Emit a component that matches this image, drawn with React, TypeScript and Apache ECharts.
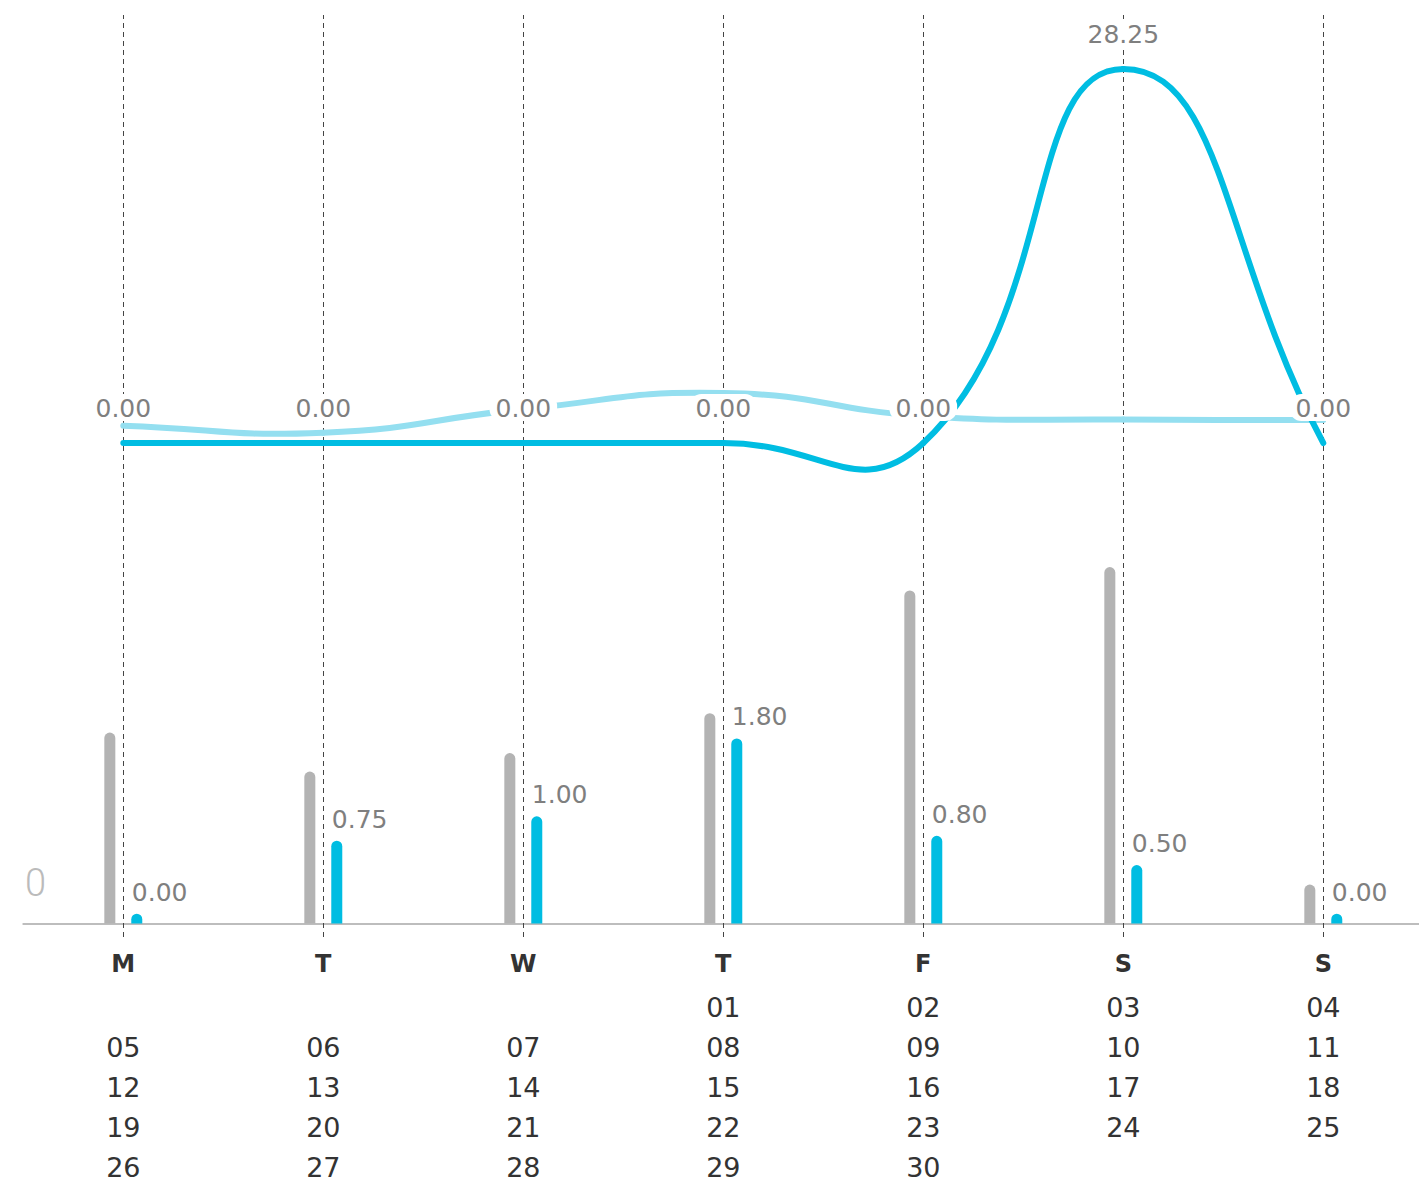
import React, { useEffect, useRef } from "react";
import * as echarts from "echarts";

// Week columns
const weekdays = ["Mon", "Tue", "Wed", "Thu", "Fri", "Sat", "Sun"];
const dayLetters = ["M", "T", "W", "T", "F", "S", "S"];

// Calendar rows shown under each weekday
const dateRows: string[][] = [
  ["", "", "", "01", "02", "03", "04"],
  ["05", "06", "07", "08", "09", "10", "11"],
  ["12", "13", "14", "15", "16", "17", "18"],
  ["19", "20", "21", "22", "23", "24", "25"],
  ["26", "27", "28", "29", "30", "", ""],
];

// Bars: grey reference vs blue actual
const referenceBars = [1.86, 1.46, 1.65, 2.06, 3.32, 3.56, 0.3];
const actualBars = [0, 0.75, 1.0, 1.8, 0.8, 0.5, 0];

// Lines: light trend and daily totals
const trendLine = [1.31, 0.78, 2.55, 3.78, 2.04, 1.77, 1.74];
const dailyTotals = [0, 0, 0, 0, 0, 28.25, 0];

// Bars rise from slightly below zero so empty days still show a stub
const BAR_FLOOR = -0.1;
const SMOOTH = 0.5;

const DARK_BLUE = "#00bde2";
const LIGHT_BLUE = "#94dff0";
const GREY_BAR = "#b3b3b3";
const LABEL_GREY = "#7f7f7f";
const FONT = "DejaVu Sans, Verdana, sans-serif";

const GRID_LEFT = 23.3;
const GRID_WIDTH = 1400;

function axisLabelText(_: string, index: number): string {
  const lines = [`{d|${dayLetters[index]}}`];
  dateRows.forEach((row) => {
    lines.push(`{n|${row[index] || " "}}`);
  });
  return lines.join("\n");
}

type Pt = number[];

// Free cubic smoothing through the points (control points are not clamped,
// so the curve may swing past neighbouring values).
function controlPoints(pts: Pt[], i: number): { cin: Pt; cout: Pt } {
  const p = pts[i];
  const prev = pts[i - 1] || p;
  const next = pts[i + 1] || p;
  const vx = next[0] - prev[0];
  const vy = next[1] - prev[1];
  const d0 = Math.hypot(p[0] - prev[0], p[1] - prev[1]);
  const d1 = Math.hypot(next[0] - p[0], next[1] - p[1]);
  const ratio = d0 + d1 === 0 ? 0.5 : d1 / (d0 + d1);
  return {
    cout: [p[0] + vx * SMOOTH * ratio, p[1] + vy * SMOOTH * ratio],
    cin: [p[0] - vx * SMOOTH * (1 - ratio), p[1] - vy * SMOOTH * (1 - ratio)],
  };
}

function smoothLineRenderer(values: number[], color: string, showLabels: boolean) {
  return (params: any, api: any) => {
    const i = params.dataIndex;
    const pts: Pt[] = values.map((v, k) => api.coord([k, v]));
    const children: any[] = [];
    if (i < pts.length - 1) {
      const a = controlPoints(pts, i);
      const b = controlPoints(pts, i + 1);
      children.push({
        type: "bezierCurve",
        shape: {
          x1: pts[i][0],
          y1: pts[i][1],
          cpx1: a.cout[0],
          cpy1: a.cout[1],
          cpx2: b.cin[0],
          cpy2: b.cin[1],
          x2: pts[i + 1][0],
          y2: pts[i + 1][1],
        },
        style: { stroke: color, lineWidth: 6, lineCap: "round", fill: "none" },
        z2: 1,
      });
    }
    if (showLabels) {
      children.push({
        type: "text",
        x: pts[i][0],
        y: pts[i][1] - 22,
        z2: 100,
        style: {
          text: values[i].toFixed(2),
          fontFamily: FONT,
          fontSize: 25,
          lineHeight: 25,
          fill: LABEL_GREY,
          align: "center",
          verticalAlign: "bottom",
          backgroundColor: "#ffffff",
          borderRadius: 12,
          padding: [2, 6, 0, 6],
        },
      });
    }
    return { type: "group", children };
  };
}

export default function App() {
  const ref = useRef<HTMLDivElement>(null);

  useEffect(() => {
    if (!ref.current) return;
    const chart = echarts.init(ref.current, null, { renderer: "svg" });

    chart.setOption({
      animation: false,
      backgroundColor: "#ffffff",
      textStyle: { fontFamily: FONT },
      grid: [
        // bars
        { left: GRID_LEFT, width: GRID_WIDTH, top: 524.2, height: 399.3 },
        // lines
        { left: GRID_LEFT, width: GRID_WIDTH, top: 45.8, height: 463.4 },
        // dashed day guides
        { left: GRID_LEFT, width: GRID_WIDTH, top: 15, height: 922 },
      ],
      xAxis: [
        {
          type: "category",
          gridIndex: 0,
          data: weekdays,
          boundaryGap: true,
          axisLine: { show: true, onZero: false, lineStyle: { color: "#bdbdbd", width: 2 } },
          axisTick: { show: false },
          axisLabel: {
            interval: 0,
            margin: 16,
            formatter: axisLabelText,
            rich: {
              d: {
                fontFamily: FONT,
                fontWeight: "bold",
                fontSize: 24,
                lineHeight: 48,
                color: "#333333",
                align: "center",
              },
              n: {
                fontFamily: FONT,
                fontSize: 27,
                lineHeight: 40,
                color: "#333333",
                align: "center",
              },
            },
          },
          splitLine: { show: false },
        },
        {
          type: "category",
          gridIndex: 1,
          data: weekdays,
          boundaryGap: true,
          show: false,
        },
        {
          type: "category",
          gridIndex: 2,
          data: weekdays,
          boundaryGap: true,
          axisLine: { show: false },
          axisLabel: { show: false },
          axisTick: {
            show: true,
            inside: true,
            alignWithLabel: true,
            length: 922,
            lineStyle: { color: "#444444", width: 1, type: [5, 4] },
          },
          splitLine: { show: false },
        },
      ],
      yAxis: [
        {
          type: "value",
          gridIndex: 0,
          min: BAR_FLOOR,
          max: 4,
          startValue: BAR_FLOOR,
          show: false,
          splitLine: { show: false },
        },
        {
          type: "value",
          gridIndex: 1,
          min: -5,
          max: 30,
          show: false,
          splitLine: { show: false },
        },
        {
          type: "value",
          gridIndex: 2,
          min: 0,
          max: 1,
          show: false,
          splitLine: { show: false },
        },
      ],
      series: [
        {
          name: "reference",
          type: "bar",
          xAxisIndex: 0,
          yAxisIndex: 0,
          data: referenceBars,
          barWidth: 11,
          barGap: "145%",
          itemStyle: { color: GREY_BAR, borderRadius: [5.5, 5.5, 0, 0] },
          z: 3,
        },
        {
          name: "actual",
          type: "bar",
          xAxisIndex: 0,
          yAxisIndex: 0,
          data: actualBars,
          barWidth: 11,
          barGap: "145%",
          itemStyle: { color: DARK_BLUE, borderRadius: [5.5, 5.5, 0, 0] },
          label: {
            show: true,
            position: "top",
            align: "left",
            offset: [-5, 0],
            distance: 9,
            fontFamily: FONT,
            fontSize: 25,
            color: LABEL_GREY,
            formatter: (p: any) => Number(p.value).toFixed(2),
          },
          z: 3,
        },
        {
          name: "trend",
          type: "custom",
          xAxisIndex: 1,
          yAxisIndex: 1,
          data: trendLine.map((v, i) => [i, v]),
          encode: { x: 0, y: 1 },
          renderItem: smoothLineRenderer(trendLine, LIGHT_BLUE, false),
          clip: false,
          z: 4,
        },
        {
          name: "total",
          type: "custom",
          xAxisIndex: 1,
          yAxisIndex: 1,
          data: dailyTotals.map((v, i) => [i, v]),
          encode: { x: 0, y: 1 },
          renderItem: smoothLineRenderer(dailyTotals, DARK_BLUE, true),
          clip: false,
          z: 5,
        },
      ],
      graphic: [
        {
          type: "text",
          x: 35.5,
          y: 883,
          style: {
            text: "0",
            fontFamily: "Roboto, sans-serif",
            fontWeight: 300,
            fontSize: 38,
            fill: "#bbbbbb",
            textAlign: "center",
            textVerticalAlign: "middle",
          },
        },
      ],
    });

    return () => chart.dispose();
  }, []);

  return (
    <div
      style={{
        position: "absolute",
        left: 0,
        top: 0,
        width: 1419,
        height: 1183,
        overflow: "hidden",
      }}
    >
      <div ref={ref} style={{ width: 1440, height: 1183 }} />
    </div>
  );
}
